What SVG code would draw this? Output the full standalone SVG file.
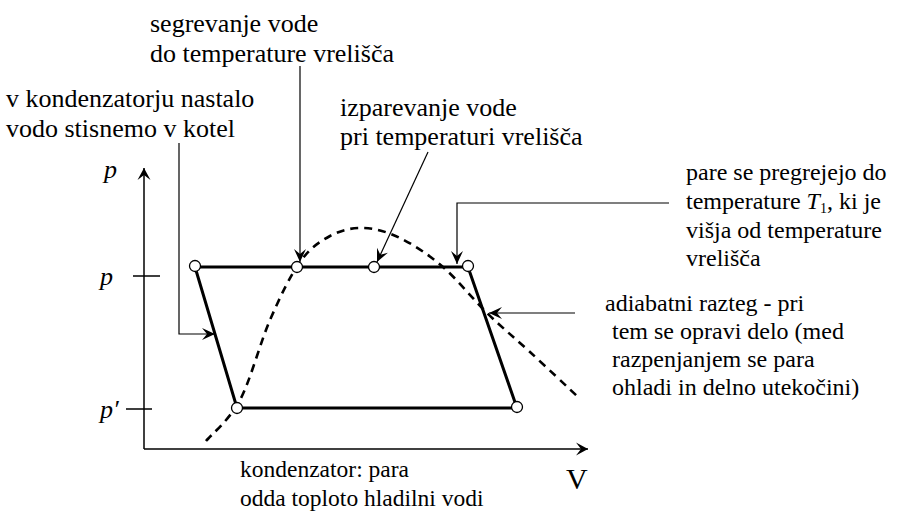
<svg xmlns="http://www.w3.org/2000/svg" width="910" height="512" viewBox="0 0 910 512">
<style>
text{font-family:"Liberation Serif","Times New Roman",serif;font-size:24px;fill:#000}
.big{font-size:26px}
.sm{font-size:23.5px}
.it{font-style:italic}
.ax{stroke:#000;stroke-width:1.5;fill:none}
.cyc{stroke:#000;stroke-width:3;fill:none}
.con{stroke:#000;stroke-width:1.2;fill:none}
.dome{stroke:#000;stroke-width:2.6;fill:none;stroke-dasharray:8 6}
.pt{fill:#fff;stroke:#000;stroke-width:1.3}
</style>
<defs>
<marker id="ah" markerUnits="userSpaceOnUse" markerWidth="16" markerHeight="16" viewBox="-14 -8 16 16" refX="0" refY="0" orient="auto">
<path d="M0,0 L-13,-6 L-8,0 L-13,6 Z" fill="#000"/>
</marker>
<marker id="axh" markerUnits="userSpaceOnUse" markerWidth="16" markerHeight="16" viewBox="-14 -8 16 16" refX="0" refY="0" orient="auto">
<path d="M0,0 L-12,-6.5 L-7,0 L-12,6.5 Z" fill="#000"/>
</marker>
</defs>
<g id="axes">
<path class="ax" d="M144,449 V168" marker-end="url(#axh)"/>
<path class="ax" d="M144,449 H588" marker-end="url(#axh)"/>
<path class="ax" d="M133,276 H160 M126,409 H152"/>
<text class="it big" x="104" y="178">p</text>
<text class="it big" x="100" y="285">p</text>
<text class="it big" x="100" y="418">p′</text>
<text x="566" y="489" style="font-size:30px">V</text>
</g>
<g id="dome">
<path class="dome" d="M206,441 C211.7,434.2 229.3,420.2 240,400 C250.7,379.8 260,343 270,320 C280,297 290,276 300,262 C310,248 319.5,241.7 330,236 C340.5,230.3 351.3,227.7 363,228 C374.7,228.3 386.7,231.5 400,238 C413.3,244.5 428.5,254.5 443,267 C457.5,279.5 472.5,298.8 487,313 C501.5,327.2 515,338.2 530,352 C545,365.8 569.2,388.7 577,396"/>
</g>
<g id="cycle">
<path class="cyc" d="M195,267 H468 L517,408 H237 Z"/>
<circle class="pt" cx="195" cy="266" r="5.5"/>
<circle class="pt" cx="297" cy="267" r="5.5"/>
<circle class="pt" cx="374" cy="267" r="5.5"/>
<circle class="pt" cx="468" cy="266" r="5.5"/>
<circle class="pt" cx="517" cy="407" r="5.5"/>
<circle class="pt" cx="237" cy="408" r="5.5"/>
</g>
<g id="connectors">
<path class="con" d="M179,143 V334 H215" marker-end="url(#ah)"/>
<path class="con" d="M300,66 V262" marker-end="url(#ah)"/>
<path class="con" d="M428,152 L377,262" marker-end="url(#ah)"/>
<path class="con" d="M669,203 H457 V264" marker-end="url(#ah)"/>
<path class="con" d="M575,313 H489" marker-end="url(#ah)"/>
</g>
<g id="label-segrevanje">
<text class="big" x="150" y="32">segrevanje vode</text>
<text class="big" x="150" y="62">do temperature vrelišča</text>
</g>
<g id="label-kondenzatorju">
<text class="big" x="6" y="107">v kondenzatorju nastalo</text>
<text class="big" x="6" y="137">vodo stisnemo v kotel</text>
</g>
<g id="label-izparevanje">
<text class="big" x="340" y="116">izparevanje vode</text>
<text class="big" x="340" y="145">pri temperaturi vrelišča</text>
</g>
<g id="label-pare">
<text x="686" y="180">pare se pregrejejo do</text>
<text x="686" y="209">temperature <tspan class="it">T</tspan><tspan style="font-size:14px" dy="4">1</tspan><tspan dy="-4">, ki je</tspan></text>
<text x="686" y="238">višja od temperature</text>
<text x="686" y="266">vrelišča</text>
</g>
<g id="label-adiabatni">
<text x="605" y="311">adiabatni razteg - pri</text>
<text x="612" y="339">tem se opravi delo (med</text>
<text x="612" y="367">razpenjanjem se para</text>
<text x="612" y="395">ohladi in delno utekočini)</text>
</g>
<g id="label-kondenzator">
<text class="sm" x="240" y="477">kondenzator: para</text>
<text class="sm" x="240" y="506">odda toploto hladilni vodi</text>
</g>
</svg>
